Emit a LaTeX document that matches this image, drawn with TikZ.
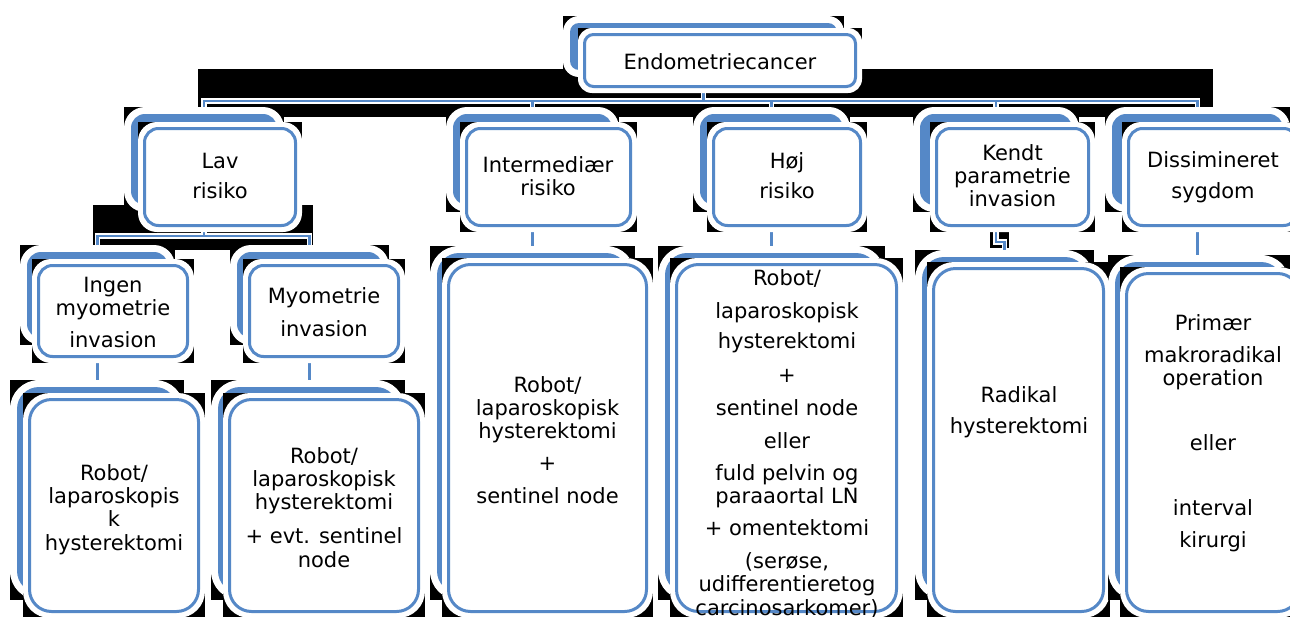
\documentclass[tikz,border=0pt]{standalone}
\usepackage{fontspec}
\setmainfont{DejaVu Sans}
\usetikzlibrary{calc}
\pgfdeclarelayer{band}
\pgfdeclarelayer{conn}
\pgfsetlayers{band,conn,main}
\definecolor{sablue}{RGB}{85,136,199}
% back shape: name, x1, y1, x2, y2, radius
\newcommand\backshape[6]{%
  \fill[blk] ({#2-7},{#3-7}) rectangle ({#4+7},{#5+7});
  \fill[white, rounded corners={#6+7}] ({#2-7},{#3-7}) rectangle ({#4+7},{#5+7});
  \node[backbox, rounded corners=#6, minimum width={#4-#2}, minimum height={#5-#3}] (#1) at ({(#2+#4)/2},{(#3+#5)/2}) {};}
% front shape: name, x1, y1, x2, y2, radius
\newcommand\frontshape[6]{%
  \fill[blk] ({#2-5},{#3-5}) rectangle ({#4+5},{#5+5});
  \fill[white, rounded corners={#6+5}] ({#2-5},{#3-5}) rectangle ({#4+5},{#5+5});
  \node[frontbox, rounded corners=#6, minimum width={#4-#2-3}, minimum height={#5-#3-3}] (#1) at ({(#2+#4)/2},{(#3+#5)/2}) {};}
\newcommand\fst{\rule{0pt}{16pt}}
\begin{document}
\begin{tikzpicture}[x=1pt,y=-1pt,
  blk/.style={fill=black},
  backbox/.style={rectangle, fill=sablue, inner sep=0pt, outer sep=0pt},
  frontbox/.style={rectangle, fill=white, draw=sablue, line width=3pt, inner sep=0pt, outer sep=0pt},
  txt/.style={align=center, inner sep=0pt, anchor=north, text=black, font=\fontsize{21}{23.3}\selectfont},
  conn/.style={draw=white, double=sablue, double distance=2.4pt, line width=1.4pt}]
\useasboundingbox (0,0) rectangle (1290,616);

\begin{pgfonlayer}{band}
  \fill[white] (0,0) rectangle (1290,616);
  \fill[blk] (198,69) rectangle (1213,117);
  \fill[blk] (93,205) rectangle (313,250);
  \fill[blk] (990,231) rectangle (1009,248);
\end{pgfonlayer}

% level 1
\backshape{top-b}{570}{23}{837}{70}{9}
\frontshape{top}{583}{33}{857}{88}{9}
% level 2
\backshape{lav-b}{131}{114}{277}{205}{14}
\frontshape{lav}{143}{127}{297}{227}{14}
\backshape{int-b}{453}{114}{612}{205}{14}
\frontshape{int}{465}{127}{632}{227}{14}
\backshape{hoj-b}{700}{114}{843}{205}{14}
\frontshape{hoj}{712}{127}{862}{227}{14}
\backshape{ken-b}{920}{114}{1072}{205}{14}
\frontshape{ken}{935}{127}{1090}{227}{14}
\backshape{dis-b}{1112}{114}{1283}{205}{14}
\frontshape{dis}{1127}{127}{1299}{227}{14}
% level 3
\backshape{ing-b}{27}{252}{168}{338}{14}
\frontshape{ing}{37}{264}{189}{358}{14}
\backshape{myo-b}{237}{252}{382}{338}{14}
\frontshape{myo}{248}{264}{400}{358}{14}
\backshape{intc-b}{437}{253}{628}{593}{22}
\frontshape{intc}{447}{263}{648}{613}{22}
\backshape{hojc-b}{665}{253}{878}{593}{22}
\frontshape{hojc}{675}{263}{898}{613}{22}
\backshape{kenc-b}{922}{257}{1087}{593}{22}
\frontshape{kenc}{932}{267}{1105}{613}{22}
\backshape{disc-b}{1115}{262}{1283}{593}{22}
\frontshape{disc}{1125}{272}{1301}{613}{22}
% level 4
\backshape{ingc-b}{17}{387}{177}{593}{22}
\frontshape{ingc}{28}{398}{200}{613}{22}
\backshape{myoc-b}{218}{387}{398}{593}{22}
\frontshape{myoc}{228}{398}{420}{613}{22}

% texts
\node[txt, anchor=base] (t-top) at (720,69) {Endometriecancer};
\node[txt] (t-lav) at (220,152) {\fst Lav\\[6.7pt]risiko};
\node[txt] (t-int) at (548,156) {\fst Intermediær\\risiko};
\node[txt] (t-hoj) at (787,152) {\fst Høj\\[6.7pt]risiko};
\node[txt] (t-ken) at (1012.5,144) {\fst Kendt\\parametrie\\invasion};
\node[txt] (t-dis) at (1213,151) {\fst Dissimineret\\[7.7pt]sygdom};
\node[txt] (t-ing) at (113,276) {\fst Ingen\\myometrie\\[8.7pt]invasion};
\node[txt] (t-myo) at (324,287) {\fst Myometrie\\[9.7pt]invasion};
\node[txt] (t-ingc) at (114,464) {\fst Robot/\\laparoskopis\\k\\hysterektomi};
\node[txt] (t-myoc) at (324,447) {\fst Robot/\\laparoskopisk\\hysterektomi\\[10.7pt]+ evt. sentinel\\node};
\node[txt] (t-intc) at (547.5,376) {\fst Robot/\\laparoskopisk\\hysterektomi\\[8.7pt]+\\[9.7pt]sentinel node};
\node[txt] (t-hojc) at (787,269) {\fst Robot/\\[9.7pt]laparoskopisk\\[6.7pt]hysterektomi\\[10.7pt]+\\[9.7pt]sentinel node\\[9.7pt]eller\\[8.7pt]fuld pelvin og\\paraaortal LN\\[8.7pt]+ omentektomi\\[9.7pt](serøse,\\udifferentieretog\\carcinosarkomer)};
\node[txt] (t-kenc) at (1019,386) {\fst Radikal\\[7.7pt]hysterektomi};
\node[txt] (t-disc) at (1213,314) {\fst Primær\\[8.7pt]makroradikal\\operation\\[41.7pt]eller\\[41.7pt]interval\\[8.7pt]kirurgi};

% connectors
\begin{pgfonlayer}{conn}
  \coordinate (bus1) at (0,101);
  \coordinate (bus2) at (0,236);
  \coordinate (bus3) at (0,242);
  \draw[conn] (top-b.south) -- (top-b.south |- bus1) -| (lav-b.north)
    (top-b.south |- bus1) -| (dis-b.north)
    (int-b.north |- bus1) -- (int-b.north)
    (hoj-b.north |- bus1) -- (hoj-b.north)
    (ken-b.north |- bus1) -- (ken-b.north)
    (lav-b.south) -- (lav-b.south |- bus2) -| (ing-b.north)
    (lav-b.south |- bus2) -| (myo-b.north)
    (int-b.south) -- (intc-b.north)
    (hoj-b.south) -- (hojc-b.north)
    (ken-b.south) -- (ken-b.south |- bus3) -| (kenc-b.north)
    (dis-b.south) -- (dis-b.south |- disc-b.north)
    (ing-b.south) -- (ing-b.south |- ingc-b.north)
    (myo-b.south) -- (myo-b.south |- myoc-b.north);
\end{pgfonlayer}
\end{tikzpicture}
\end{document}
